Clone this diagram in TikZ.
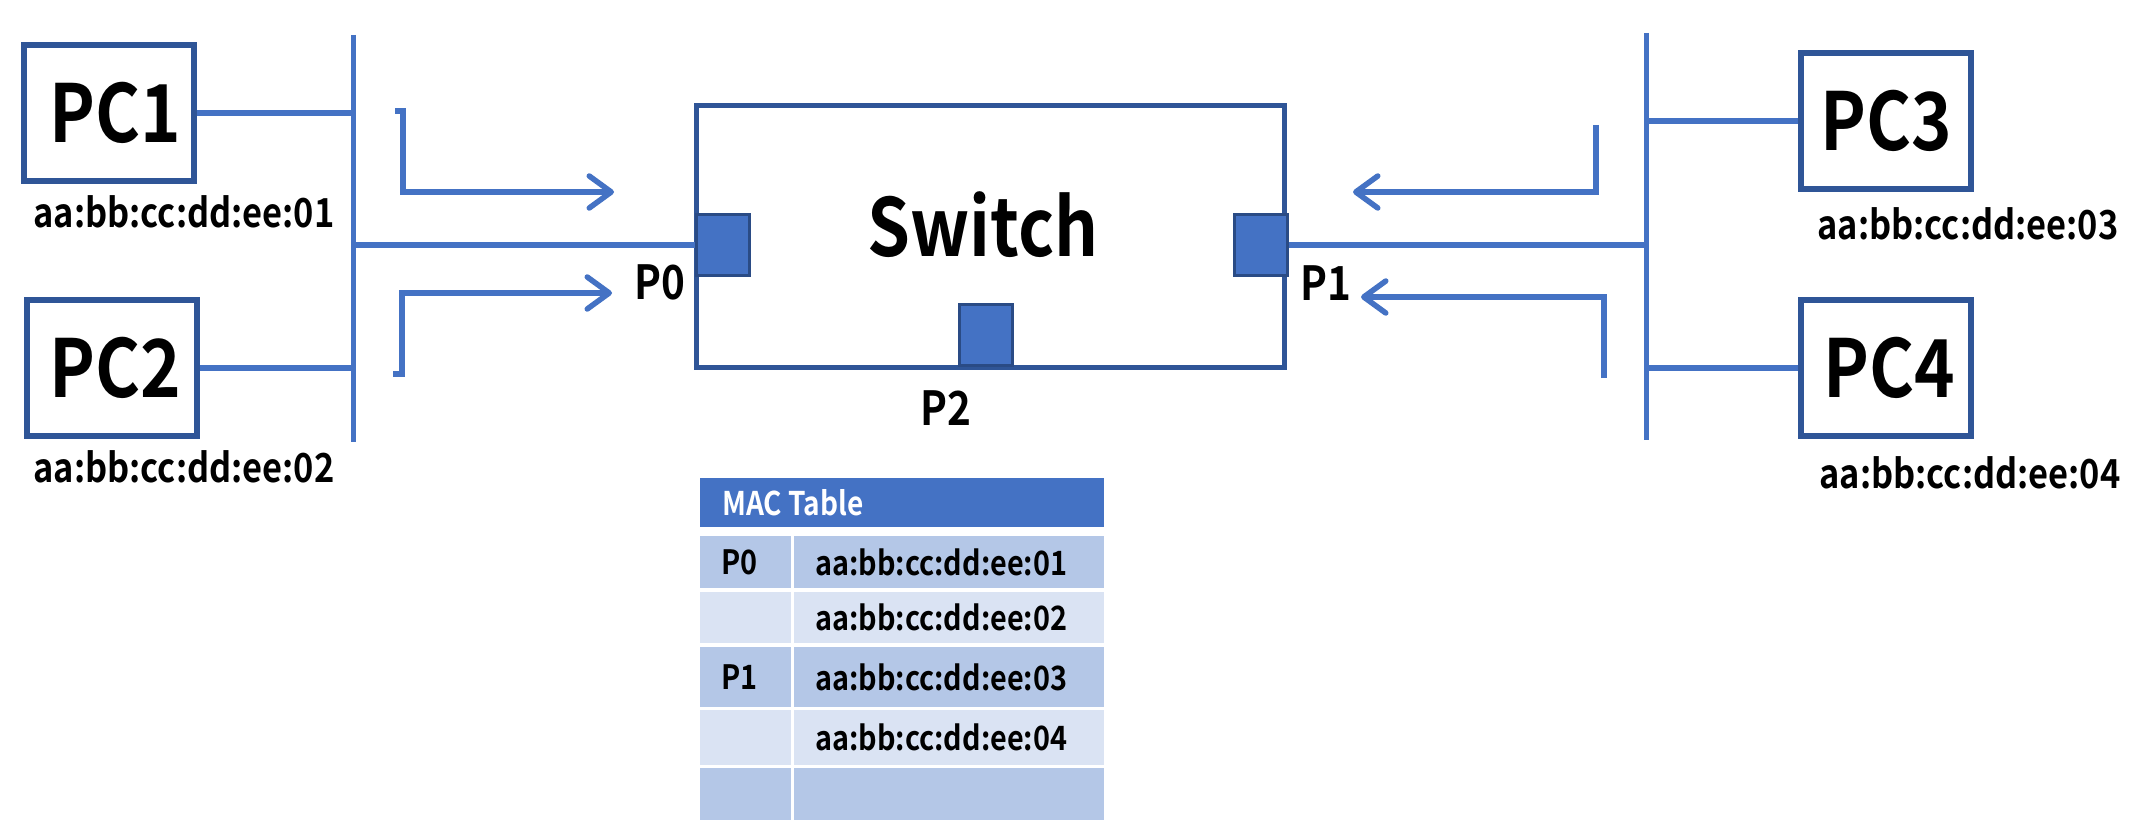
\documentclass[tikz,border=0pt]{standalone}
\usepackage{fontspec}
\setmainfont{Noto Sans CJK KR}[BoldFont={Noto Sans CJK KR Bold}, FakeStretch=0.86]
\usetikzlibrary{arrows.meta}
\definecolor{lineblue}{HTML}{4472C4}
\definecolor{boxblue}{HTML}{2F5597}
\definecolor{portedge}{HTML}{2A4B85}
\definecolor{rowdark}{HTML}{B4C7E7}
\definecolor{rowlight}{HTML}{DAE3F3}
\tikzset{
  pcbox/.style={draw=boxblue, line width=6pt, minimum width=170pt, minimum height=136pt, inner sep=0pt,
    font=\bfseries\fontsize{80}{82}\selectfont},
  swbox/.style={draw=boxblue, line width=5.5pt, minimum width=588pt, minimum height=262pt, inner sep=0pt},
  swtext/.style={font=\bfseries\fontsize{80}{84}\selectfont, inner sep=0pt},
  port/.style={draw=portedge, fill=lineblue, line width=3pt, minimum width=53pt, minimum height=61pt, inner sep=0pt},
  mac/.style={font=\bfseries\fontsize{40}{42}\selectfont, inner sep=0pt},
  plabel/.style={font=\bfseries\fontsize{47}{49}\selectfont, inner sep=0pt},
  wire/.style={draw=lineblue, line width=6pt},
  bus/.style={draw=lineblue, line width=5pt},
  flow/.style={draw=lineblue, line width=5.5pt, -{Straight Barb[length=22pt,width=32pt,round]}},
  cell/.style={anchor=north west, inner sep=0pt, draw=none},
  celltext/.style={anchor=west, inner sep=0pt, font=\bfseries\fontsize{33.5}{35}\selectfont},
  hdrtext/.style={anchor=west, inner sep=0pt, text=white, font=\bfseries\fontsize{32.6}{34}\selectfont},
}
\begin{document}
\begin{tikzpicture}[x=1pt,y=-1pt]
\fill[white] (0,0) rectangle (2137,829);
\useasboundingbox (0,0) rectangle (2137,829);

% PCs
\node[pcbox] (pc1) at (109,113) {\hspace*{12pt}PC1};
\node[pcbox] (pc2) at (112,368) {\hspace*{7pt}PC2};
\node[pcbox] (pc3) at (1886,121) {PC3};
\node[pcbox] (pc4) at (1886,368) {\hspace*{7pt}PC4};

\node[mac] (m1) at (184,212) {aa:bb:cc:dd:ee:01};
\node[mac] (m2) at (184,467) {aa:bb:cc:dd:ee:02};
\node[mac] (m3) at (1968,224) {aa:bb:cc:dd:ee:03};
\node[mac] (m4) at (1970,473) {aa:bb:cc:dd:ee:04};

% buses
\coordinate (busLt) at (353,35);
\coordinate (busLb) at (353,442);
\coordinate (busRt) at (1646,33);
\coordinate (busRb) at (1646,440);
\draw[bus] (busLt) -- (busLb);
\draw[bus] (busRt) -- (busRb);

% switch
\node[swbox] (sw) at (990.5,236.5) {};
\node[swtext] (swt) at (983,225) {Switch};
\node[port] (p0) at (723,245) {};
\node[port] (p1) at (1260.5,245) {};
\node[port] (p2) at (985.5,334.5) {};
\node[plabel] (l0) at (660,282) {P0};
\node[plabel] (l1) at (1326,283) {P1};
\node[plabel] (l2) at (946,408) {P2};

% wires
\draw[wire] (pc1.east) -- (pc1.east -| busLt);
\draw[wire] (pc2.east) -- (pc2.east -| busLt);
\draw[wire] (p0.west) -- (p0.west -| busLt);
\draw[wire] (p1.east) -- (p1.east -| busRt);
\draw[wire] (pc3.west) -- (pc3.west -| busRt);
\draw[wire] (pc4.west) -- (pc4.west -| busRt);

% flow arrows
\coordinate (a1s) at (395,111);
\coordinate (a1e) at (614,192);
\draw[flow] (a1s) -- (403,111) -- (403,192) -- (a1e);
\coordinate (a2s) at (393,374);
\coordinate (a2e) at (612,293);
\draw[flow] (a2s) -- (402,374) -- (402,293) -- (a2e);
\coordinate (a3s) at (1596,125);
\coordinate (a3e) at (1353,192);
\draw[flow] (a3s) -- (1596,192) -- (a3e);
\coordinate (a4s) at (1604,378);
\coordinate (a4e) at (1361,297);
\draw[flow] (a4s) -- (1604,297) -- (a4e);

% MAC table
\node[cell, fill=lineblue, minimum width=404pt, minimum height=49pt] (hdr) at (700,478) {};
\node[hdrtext] (hdrt) at ([xshift=22pt]hdr.west) {MAC Table};

\node[cell, fill=rowdark, minimum width=91pt, minimum height=52pt] (r1a) at (700,536) {};
\node[cell, fill=rowdark, minimum width=310pt, minimum height=52pt] (r1b) at (794,536) {};
\node[cell, fill=rowlight, minimum width=91pt, minimum height=51pt] (r2a) at (700,592) {};
\node[cell, fill=rowlight, minimum width=310pt, minimum height=51pt] (r2b) at (794,592) {};
\node[cell, fill=rowdark, minimum width=91pt, minimum height=60pt] (r3a) at (700,647) {};
\node[cell, fill=rowdark, minimum width=310pt, minimum height=60pt] (r3b) at (794,647) {};
\node[cell, fill=rowlight, minimum width=91pt, minimum height=55pt] (r4a) at (700,710) {};
\node[cell, fill=rowlight, minimum width=310pt, minimum height=55pt] (r4b) at (794,710) {};
\node[cell, fill=rowdark, minimum width=91pt, minimum height=52pt] (r5a) at (700,768) {};
\node[cell, fill=rowdark, minimum width=310pt, minimum height=52pt] (r5b) at (794,768) {};

\node[celltext] (t1a) at ([xshift=21pt]r1a.west) {P0};
\node[celltext] (t1b) at ([xshift=21pt]r1b.west) {aa:bb:cc:dd:ee:01};
\node[celltext] (t2b) at ([xshift=21pt]r2b.west) {aa:bb:cc:dd:ee:02};
\node[celltext] (t3a) at ([xshift=21pt]r3a.west) {P1};
\node[celltext] (t3b) at ([xshift=21pt]r3b.west) {aa:bb:cc:dd:ee:03};
\node[celltext] (t4b) at ([xshift=21pt]r4b.west) {aa:bb:cc:dd:ee:04};
\end{tikzpicture}
\end{document}
